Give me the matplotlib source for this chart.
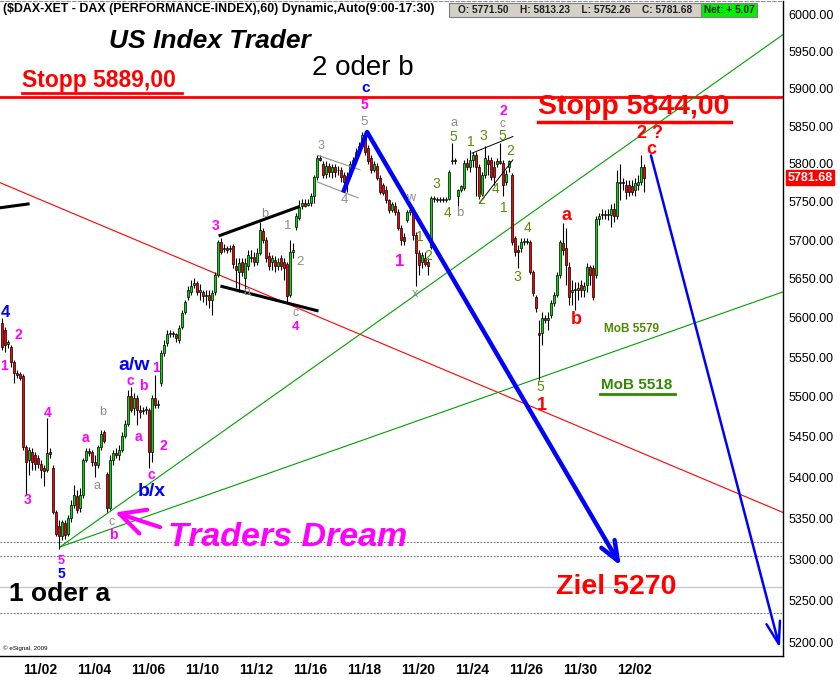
import numpy as np
import matplotlib
matplotlib.use("Agg")
import matplotlib.pyplot as plt
import matplotlib.transforms as mtransforms
from matplotlib.lines import Line2D
from matplotlib.patches import Rectangle
from matplotlib.ticker import NullLocator

plt.rcParams['font.family'] = ['Liberation Sans', 'DejaVu Sans']

# DAX hourly bars, 29.10.2009 - 02.12.2009
opens = [5593, 5584, 5567, 5563, 5544, 5530, 5529, 5526, 5437, 5421,
         5431, 5427, 5424, 5417, 5411, 5409, 5431, 5412, 5357, 5341,
         5328, 5344, 5331, 5350, 5366, 5377, 5362, 5378, 5421, 5432,
         5431, 5419, 5415, 5437, 5456, 5404, 5362, 5421, 5430, 5427,
         5434, 5451, 5466, 5501, 5486, 5499, 5483, 5482, 5483, 5483,
         5431, 5499, 5490, 5517, 5555, 5568, 5579, 5580, 5579, 5572,
         5588, 5607, 5626, 5633, 5642, 5645, 5633, 5633, 5628, 5629,
         5623, 5633, 5655, 5697, 5690, 5689, 5688, 5692, 5666, 5658,
         5671, 5651, 5666, 5677, 5678, 5671, 5683, 5712, 5700, 5679,
         5671, 5674, 5666, 5677, 5671, 5669, 5629, 5684, 5717, 5729,
         5744, 5748, 5746, 5748, 5757, 5783, 5808, 5799, 5787, 5797,
         5789, 5795, 5791, 5792, 5785, 5775, 5784, 5799, 5807, 5816,
         5824, 5840, 5821, 5808, 5792, 5797, 5781, 5772, 5765, 5752,
         5739, 5745, 5737, 5716, 5704, 5726, 5736, 5739, 5706, 5683,
         5671, 5677, 5671, 5691, 5755, 5753, 5752, 5753, 5752, 5753,
         5804, 5805, 5757, 5765, 5768, 5801, 5795, 5805, 5811, 5795,
         5760, 5785, 5805, 5805, 5796, 5800, 5804, 5801, 5776, 5795,
         5785, 5703, 5687, 5689, 5697, 5697, 5697, 5658, 5626, 5580,
         5580, 5600, 5597, 5603, 5619, 5629, 5655, 5696, 5689, 5665,
         5633, 5636, 5636, 5642, 5636, 5642, 5665, 5664, 5655, 5727,
         5732, 5734, 5732, 5732, 5741, 5731, 5776, 5775, 5772, 5772,
         5771, 5765, 5772, 5776, 5795]
highs = [5600, 5588, 5572, 5565, 5546, 5534, 5531, 5529, 5440, 5437,
         5436, 5431, 5427, 5421, 5415, 5473, 5436, 5415, 5360, 5348,
         5348, 5348, 5354, 5372, 5391, 5384, 5387, 5424, 5436, 5436,
         5434, 5427, 5440, 5458, 5458, 5406, 5427, 5434, 5436, 5440,
         5456, 5471, 5509, 5512, 5505, 5502, 5490, 5487, 5488, 5486,
         5502, 5527, 5496, 5559, 5572, 5584, 5584, 5583, 5581, 5591,
         5610, 5623, 5640, 5648, 5651, 5647, 5643, 5636, 5636, 5636,
         5636, 5658, 5700, 5703, 5695, 5692, 5693, 5695, 5677, 5677,
         5677, 5677, 5687, 5687, 5684, 5690, 5723, 5716, 5704, 5684,
         5681, 5679, 5677, 5681, 5677, 5671, 5700, 5696, 5735, 5752,
         5754, 5753, 5753, 5761, 5785, 5811, 5811, 5803, 5803, 5801,
         5799, 5800, 5797, 5796, 5789, 5789, 5803, 5809, 5821, 5829,
         5842, 5842, 5825, 5811, 5803, 5801, 5785, 5775, 5770, 5754,
         5749, 5749, 5741, 5719, 5709, 5739, 5745, 5743, 5710, 5687,
         5684, 5684, 5677, 5757, 5757, 5756, 5756, 5756, 5756, 5792,
         5827, 5807, 5766, 5772, 5805, 5807, 5818, 5816, 5815, 5799,
         5789, 5824, 5811, 5809, 5803, 5807, 5828, 5805, 5792, 5805,
         5788, 5705, 5693, 5703, 5703, 5703, 5700, 5661, 5629, 5597,
         5607, 5604, 5607, 5623, 5633, 5658, 5700, 5722, 5716, 5671,
         5648, 5646, 5646, 5648, 5646, 5670, 5668, 5668, 5731, 5735,
         5741, 5739, 5740, 5747, 5748, 5792, 5799, 5781, 5779, 5779,
         5779, 5781, 5785, 5811, 5799]
lows = [5559, 5556, 5562, 5537, 5517, 5524, 5521, 5434, 5378, 5403,
        5409, 5409, 5411, 5399, 5389, 5406, 5424, 5355, 5328, 5313,
        5323, 5325, 5328, 5345, 5362, 5356, 5357, 5375, 5419, 5426,
        5414, 5400, 5411, 5434, 5442, 5357, 5360, 5415, 5424, 5421,
        5431, 5448, 5463, 5481, 5477, 5465, 5473, 5478, 5479, 5412,
        5419, 5486, 5486, 5513, 5551, 5564, 5575, 5576, 5569, 5568,
        5586, 5605, 5623, 5629, 5638, 5629, 5623, 5620, 5616, 5613,
        5604, 5629, 5652, 5682, 5684, 5683, 5684, 5664, 5638, 5633,
        5653, 5636, 5661, 5671, 5666, 5668, 5681, 5696, 5671, 5661,
        5661, 5658, 5661, 5661, 5648, 5619, 5626, 5677, 5713, 5726,
        5740, 5743, 5744, 5744, 5748, 5779, 5803, 5781, 5781, 5783,
        5781, 5783, 5785, 5776, 5768, 5763, 5781, 5796, 5804, 5813,
        5821, 5812, 5799, 5788, 5789, 5779, 5760, 5759, 5748, 5735,
        5736, 5732, 5713, 5694, 5694, 5723, 5732, 5700, 5640, 5655,
        5664, 5666, 5655, 5688, 5749, 5749, 5750, 5750, 5750, 5752,
        5799, 5799, 5744, 5763, 5765, 5792, 5789, 5795, 5757, 5754,
        5758, 5781, 5785, 5779, 5772, 5795, 5799, 5757, 5772, 5789,
        5694, 5679, 5664, 5684, 5693, 5695, 5656, 5628, 5607, 5521,
        5565, 5593, 5584, 5600, 5615, 5626, 5651, 5681, 5642, 5616,
        5616, 5610, 5623, 5626, 5626, 5633, 5642, 5623, 5651, 5719,
        5727, 5727, 5726, 5717, 5723, 5727, 5752, 5765, 5754, 5757,
        5759, 5758, 5765, 5772, 5763]
closes = [5563, 5565, 5569, 5544, 5530, 5527, 5524, 5437, 5419, 5434,
          5419, 5417, 5416, 5409, 5408, 5430, 5429, 5357, 5331, 5328,
          5345, 5330, 5350, 5366, 5378, 5360, 5378, 5421, 5432, 5430,
          5419, 5415, 5437, 5454, 5445, 5362, 5421, 5430, 5427, 5434,
          5451, 5466, 5501, 5483, 5499, 5483, 5481, 5483, 5485, 5431,
          5499, 5490, 5491, 5555, 5565, 5579, 5580, 5579, 5574, 5587,
          5606, 5620, 5636, 5641, 5645, 5633, 5636, 5628, 5629, 5623,
          5632, 5655, 5697, 5684, 5688, 5687, 5689, 5669, 5661, 5670,
          5658, 5670, 5681, 5678, 5671, 5683, 5713, 5700, 5677, 5666,
          5677, 5666, 5671, 5666, 5664, 5628, 5684, 5687, 5731, 5743,
          5748, 5745, 5748, 5757, 5783, 5808, 5805, 5785, 5797, 5789,
          5795, 5789, 5792, 5783, 5776, 5784, 5799, 5805, 5816, 5824,
          5838, 5816, 5803, 5792, 5799, 5781, 5763, 5762, 5752, 5739,
          5747, 5736, 5716, 5700, 5699, 5736, 5739, 5706, 5683, 5668,
          5681, 5669, 5666, 5755, 5753, 5752, 5753, 5752, 5753, 5789,
          5805, 5803, 5765, 5770, 5801, 5795, 5805, 5812, 5795, 5757,
          5785, 5808, 5799, 5783, 5783, 5804, 5801, 5772, 5787, 5803,
          5697, 5684, 5684, 5697, 5699, 5699, 5658, 5632, 5613, 5578,
          5600, 5597, 5600, 5619, 5629, 5655, 5697, 5687, 5668, 5626,
          5636, 5635, 5638, 5636, 5641, 5665, 5655, 5626, 5727, 5731,
          5734, 5732, 5734, 5741, 5731, 5776, 5775, 5774, 5763, 5763,
          5763, 5774, 5776, 5795, 5781.68]

date_labels = ['11/02', '11/04', '11/06', '11/10', '11/12', '11/16',
               '11/18', '11/20', '11/24', '11/26', '11/30', '12/02']
bars_per_day = 9
first_label_bar = 12.7
price_ticks = list(range(5200, 6001, 50))

stop_level = 5889
dotted_levels = [5321, 5304, 5236]
target_level = 5267

# lines drawn by the analyst, as (bar, price) end points
red_trend = ([-0.7, 260.3], [5775, 5357])
green_upper = ([19.3, 260.3], [5315, 5973])
green_lower = ([19.3, 260.3], [5315, 5633])
black_left = ([-0.7, 8.7], [5742, 5747])
black_top = ([72.7, 98.7], [5706, 5743])
black_bottom = ([73.3, 105.0], [5640, 5609])
gray_flag_top = ([105.3, 119.3], [5811, 5792])
gray_flag_bottom = ([105.0, 118.7], [5776, 5755])
black_wedge_top = ([156.7, 170.3], [5814, 5836])
black_wedge_bottom = ([159.3, 170.3], [5749, 5805])
blue_wave5 = ([113.7, 121.7], [5762, 5842])
blue_down = ([121.7, 206.3], [5842, 5292])
blue_next = ([216.3, 259.3], [5811, 5194])
pink_arrow = ([52.7, 37.7], [5339, 5357])

W, H = 840, 677
fig = plt.figure(figsize=(W / 100, H / 100), dpi=100)
ax = fig.add_axes([0, 21 / H, 783 / W, 655 / H])
ax.set_yscale('log')

x = np.arange(len(closes))
o = np.array(opens, dtype=float)
c = np.array(closes, dtype=float)
up = c >= o
ax.vlines(x, lows, highs, color='black', lw=0.8, zorder=3)
bottoms = np.minimum(o, c)
heights = np.maximum(np.abs(c - o), 1.2)
ax.bar(x, heights, bottom=bottoms, width=0.9,
       color=np.where(up, '#00E000', '#FF0000'),
       edgecolor='black', linewidth=0.5, zorder=4)

# horizontal levels
ax.axhline(stop_level, color='#FF0000', lw=2, zorder=2)
for lvl in dotted_levels:
    ax.axhline(lvl, color='#707070', lw=0.8, ls=(0, (1.5, 1.5)), zorder=1)
ax.axhline(target_level, color='#C8C8C8', lw=1, zorder=1)

# trend lines
ax.plot(*red_trend, color='#FF0000', lw=0.8, zorder=2)
ax.plot(*green_upper, color='#00A000', lw=0.8, zorder=2)
ax.plot(*green_lower, color='#00A000', lw=0.8, zorder=2)
for seg in (black_left, black_top, black_bottom):
    ax.plot(*seg, color='black', lw=2.2, zorder=5)
for seg in (gray_flag_top, gray_flag_bottom):
    ax.plot(*seg, color='#909090', lw=0.8, zorder=5)
for seg in (black_wedge_top, black_wedge_bottom):
    ax.plot(*seg, color='black', lw=0.7, zorder=5)
ax.plot(*blue_wave5, color='#0000FF', lw=3.2, zorder=6, solid_capstyle='butt')


def arrow(seg, color, lw, hl, hw):
    (x0, x1), (y0, y1) = seg
    ax.annotate('', xy=(x1, y1), xytext=(x0, y0),
                arrowprops=dict(arrowstyle=f'->,head_length={hl},head_width={hw}',
                                color=color, lw=lw, shrinkA=0, shrinkB=0),
                zorder=6)


arrow(blue_down, '#0000FF', 3.2, 1.4, 0.55)
arrow(blue_next, '#0000FF', 1.8, 1.6, 0.5)
arrow(pink_arrow, '#FF00FF', 3.0, 1.8, 0.9)

ax.set_xlim(-2 / 3, 781 / 3)
ax.set_ylim(5184.6, 6019)

# axes look
ax.yaxis.tick_right()
ax.yaxis.set_minor_locator(NullLocator())
ax.set_yticks(price_ticks)
ax.set_yticklabels([f'{p:.2f}' for p in price_ticks])
ax.tick_params(axis='y', length=0, pad=4, labelsize=9)
tick_pos = first_label_bar + 2 * bars_per_day * np.arange(len(date_labels))
ax.set_xticks(tick_pos)
ax.set_xticklabels(date_labels, fontsize=10, fontweight='bold', fontstretch='condensed',
                   family=['Liberation Sans Narrow', 'Liberation Sans'])
ax.tick_params(axis='x', length=0, pad=5)
ax.spines['left'].set_visible(False)
ax.spines['top'].set_color('#909090')
ax.spines['top'].set_linestyle((0, (3, 2)))
for s in ('right', 'bottom'):
    ax.spines[s].set_color('black')
    ax.spines[s].set_linewidth(1)

# last price flag on the price axis
blend = mtransforms.blended_transform_factory(ax.transAxes, ax.transData)
ax.text(1.006, closes[-1], f'{closes[-1]:.2f}', transform=blend, ha='left', va='center',
        color='white', fontsize=9, fontweight='bold', clip_on=False,
        bbox=dict(boxstyle='square,pad=0.12', fc='#FF0000', ec='#FF0000'))


def put(px, py, s, color, size=9, weight='normal', style='normal', ha='center'):
    fig.text(px / W, 1 - py / H, s, color=color, fontsize=size, fontweight=weight,
             fontstyle=style, ha=ha, va='center')


def underline(x0, x1, py, color, lw):
    fig.add_artist(Line2D([x0 / W, x1 / W], [1 - py / H, 1 - py / H], color=color, lw=lw))


# header
put(3, 9, '($DAX-XET - DAX (PERFORMANCE-INDEX),60) Dynamic,Auto(9:00-17:30)', 'black',
    size=8.9, weight='bold', ha='left')
fig.add_artist(Rectangle((449 / W, 1 - 17 / H), 252 / W, 14 / H, transform=fig.transFigure,
                         fc='#D4D0C8', ec='#808080', lw=0.8))
fig.add_artist(Rectangle((701 / W, 1 - 17 / H), 56 / W, 14 / H, transform=fig.transFigure,
                         fc='#00F000', ec='#808080', lw=0.8))
put(575, 10, 'O: 5771.50    H: 5813.23    L: 5752.26    C: 5781.68', '#202020',
    size=7.3, weight='bold')
put(729, 10, 'Net: + 5.07', '#202020', size=7.3, weight='bold')
put(3, 648, '\u00a9 eSignal, 2009', 'black', size=4.5, ha='left')

# big captions
put(210, 41, 'US Index Trader', 'black', size=19, weight='bold', style='italic')
put(22, 81, 'Stopp 5889,00', '#FF0000', size=16.5, weight='bold', ha='left')
underline(22, 182, 93, '#FF0000', 2)
put(363, 68, '2 oder b', 'black', size=20)
put(538, 107, 'Stopp 5844,00', '#FF0000', size=20.5, weight='bold', ha='left')
underline(538, 731, 122, '#FF0000', 2.5)
put(288, 537, 'Traders Dream', '#FF00FF', size=24.5, weight='bold', style='italic')
put(60, 594, '1 oder a', 'black', size=19, weight='bold')
put(616, 587, 'Ziel 5270', '#FF0000', size=20.5, weight='bold')
put(631, 329, 'MoB 5579', '#4E8A00', size=8.5, weight='bold')
put(637, 385, 'MoB 5518', '#2E8B00', size=11, weight='bold')
underline(600, 675, 394, '#2E8B00', 2)

MAG, GRY, BLU, OLV, RED = '#FF00FF', '#8C8C8C', '#0000FF', '#5A8C00', '#FF0000'
wave_labels = [
    ('4', 5, 313, BLU, 12, 'bold'), ('2', 18, 335, MAG, 10, 'bold'),
    ('1', 4, 366, MAG, 10, 'bold'), ('3', 28, 500, MAG, 10, 'bold'),
    ('4', 48, 413, MAG, 10, 'bold'), ('5', 61, 561, MAG, 9, 'bold'),
    ('5', 61, 574, BLU, 10, 'bold'), ('a', 85, 438, MAG, 10, 'bold'),
    ('b', 103, 412, GRY, 9, 'normal'), ('a', 97, 486, GRY, 9, 'normal'),
    ('c', 112, 522, GRY, 9, 'normal'), ('b', 113, 535, MAG, 10, 'bold'),
    ('a/w', 134, 366, BLU, 14, 'bold'), ('c', 130, 381, MAG, 10, 'bold'),
    ('b', 143, 386, MAG, 10, 'bold'), ('1', 156, 368, MAG, 10, 'bold'),
    ('a', 138, 437, MAG, 10, 'bold'), ('2', 163, 446, MAG, 10, 'bold'),
    ('c', 151, 475, MAG, 10, 'bold'), ('b/x', 152, 491, BLU, 14, 'bold'),
    ('3', 216, 226, MAG, 10, 'bold'), ('b', 265, 214, GRY, 9, 'normal'),
    ('1', 288, 226, GRY, 9.5, 'normal'), ('2', 300, 262, GRY, 9.5, 'normal'),
    ('a', 247, 292, GRY, 9, 'normal'), ('c', 295, 313, GRY, 8.5, 'normal'),
    ('4', 295, 327, MAG, 9.5, 'bold'), ('3', 321, 146, GRY, 9, 'normal'),
    ('4', 344, 200, GRY, 9.5, 'normal'), ('5', 364, 122, GRY, 9.5, 'normal'),
    ('5', 364, 105, MAG, 10, 'bold'), ('c', 366, 88, BLU, 11, 'bold'),
    ('w', 411, 198, GRY, 9, 'normal'), ('1', 400, 262, MAG, 12, 'bold'),
    ('1', 420, 237, OLV, 10, 'normal'), ('x', 415, 294, GRY, 9, 'normal'),
    ('2', 428, 256, OLV, 10, 'normal'), ('3', 436, 184, OLV, 10, 'normal'),
    ('4', 448, 213, OLV, 10, 'normal'), ('b', 460, 213, GRY, 9.5, 'normal'),
    ('5', 453, 137, OLV, 10, 'normal'), ('a', 454, 123, GRY, 9, 'normal'),
    ('1', 471, 142, OLV, 10, 'normal'), ('3', 483, 136, OLV, 10, 'normal'),
    ('5', 502, 136, OLV, 10, 'normal'), ('c', 502, 124, GRY, 8.5, 'normal'),
    ('2', 503, 111, MAG, 10, 'bold'), ('2', 510, 151, OLV, 10, 'normal'),
    ('4', 495, 189, OLV, 10, 'normal'), ('2', 481, 200, OLV, 10, 'normal'),
    ('1', 504, 208, OLV, 10, 'normal'), ('4', 528, 228, OLV, 10, 'normal'),
    ('3', 517, 277, OLV, 10, 'normal'), ('5', 540, 387, OLV, 10, 'normal'),
    ('1', 542, 405, RED, 13, 'bold'), ('a', 566, 215, RED, 13, 'bold'),
    ('b', 576, 320, RED, 13, 'bold'), ('2 ?', 650, 133, RED, 13, 'bold'),
    ('c', 651, 149, RED, 13, 'bold'),
]
for s, px, py, col, size, weight in wave_labels:
    put(px, py, s, col, size=size, weight=weight)

fig.savefig('out.png', dpi=100, facecolor='white')
